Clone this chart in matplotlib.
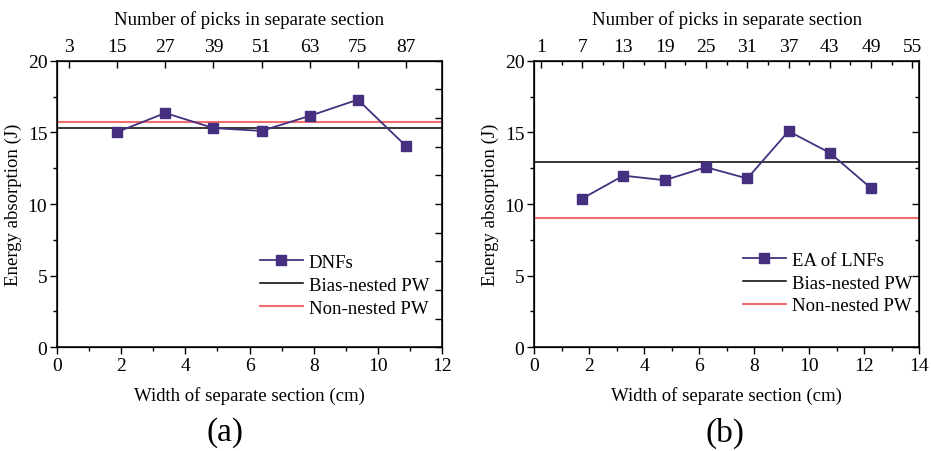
import numpy as np
import matplotlib.pyplot as plt
from matplotlib.ticker import MultipleLocator

plt.rcParams['font.family'] = ['Liberation Serif', 'DejaVu Serif']
plt.rcParams['font.size'] = 14

# panel (a): DNFs
picks_a = [15, 27, 39, 51, 63, 75, 87]
energy_a = [15.02, 16.35, 15.3, 15.1, 16.15, 17.28, 14.05]
bias_a = 15.28
non_a = 15.73
cm_per_pick_a = 0.125
top_ticks_a = [3, 15, 27, 39, 51, 63, 75, 87]

# panel (b): LNFs
picks_b = [7, 13, 19, 25, 31, 37, 43, 49]
energy_b = [10.38, 11.98, 11.66, 12.57, 11.78, 15.08, 13.57, 11.1]
bias_b = 12.9
non_b = 9.0
cm_per_pick_b = 0.25
top_ticks_b = [1, 7, 13, 19, 25, 31, 37, 43, 49, 55]

purple = '#45307f'
red = '#f26d6d'

fig = plt.figure(figsize=(9.31, 4.52), dpi=100)
ax_a = fig.add_axes([0.0612, 0.2294, 0.4136, 0.6341])
ax_b = fig.add_axes([0.5736, 0.2294, 0.4138, 0.6341])


def style_panel(ax, xmax, top_picks, factor, top_minor, right_step, right_minor):
    ax.set_xlim(0, xmax)
    ax.set_ylim(0, 20)
    ax.xaxis.set_major_locator(MultipleLocator(2))
    ax.xaxis.set_minor_locator(MultipleLocator(1))
    ax.yaxis.set_major_locator(MultipleLocator(5))
    ax.yaxis.set_minor_locator(MultipleLocator(2.5))
    ax.tick_params(which='major', direction='out', length=5, width=1, labelsize=14, pad=2)
    ax.tick_params(which='minor', direction='out', length=3, width=1)
    ax.set_xlabel('Width of separate section (cm)', fontsize=13.5, labelpad=9)
    ax.set_ylabel('Energy absorption (J)', fontsize=13.5, labelpad=4)
    for s in ax.spines.values():
        s.set_linewidth(1.1)

    top = ax.twiny()
    top.set_xlim(ax.get_xlim())
    top.set_xticks([p * factor for p in top_picks])
    top.set_xticklabels([str(p) for p in top_picks])
    if top_minor:
        top.set_xticks([(p + 3) * factor for p in top_picks[:-1]], minor=True)
    top.tick_params(which='major', direction='in', length=5, width=1, labelsize=14, pad=4)
    top.tick_params(which='minor', direction='in', length=3, width=1)
    top.set_xlabel('Number of picks in separate section', fontsize=13.5, labelpad=10)

    right = ax.twinx()
    right.set_ylim(0, 20)
    right.yaxis.set_major_locator(MultipleLocator(right_step))
    if right_minor:
        right.yaxis.set_minor_locator(MultipleLocator(right_minor))
    right.tick_params(which='both', direction='in', length=5, width=1, labelright=False)
    right.tick_params(which='minor', length=3)


style_panel(ax_a, 12, top_ticks_a, cm_per_pick_a, False, 2, None)
style_panel(ax_b, 14, top_ticks_b, cm_per_pick_b, True, 5, 2.5)

x_a = [p * cm_per_pick_a for p in picks_a]
ax_a.plot(x_a, energy_a, color=purple, marker='s', markersize=6.5, lw=1.3, label='DNFs', zorder=5)
ax_a.axhline(bias_a, color='black', lw=1.1, label='Bias-nested PW')
ax_a.axhline(non_a, color=red, lw=1.5, label='Non-nested PW')
ax_a.legend(loc='upper left', bbox_to_anchor=(0.527, 0.326), frameon=False, fontsize=13.5,
            handlelength=2.3, handletextpad=0.3, labelspacing=0.3, borderpad=0, borderaxespad=0)

x_b = [p * cm_per_pick_b for p in picks_b]
ax_b.plot(x_b, energy_b, color=purple, marker='s', markersize=6.5, lw=1.3, label='EA of LNFs', zorder=5)
ax_b.axhline(bias_b, color='black', lw=1.1, label='Bias-nested PW')
ax_b.axhline(non_b, color=red, lw=1.5, label='Non-nested PW')
ax_b.legend(loc='upper left', bbox_to_anchor=(0.542, 0.333), frameon=False, fontsize=13.5,
            handlelength=2.3, handletextpad=0.3, labelspacing=0.3, borderpad=0, borderaxespad=0)

fig.text(0.2417, 0.042, '(a)', fontsize=24, ha='center', va='center')
fig.text(0.7787, 0.042, '(b)', fontsize=24, ha='center', va='center')

fig.savefig('out.png', dpi=100)
